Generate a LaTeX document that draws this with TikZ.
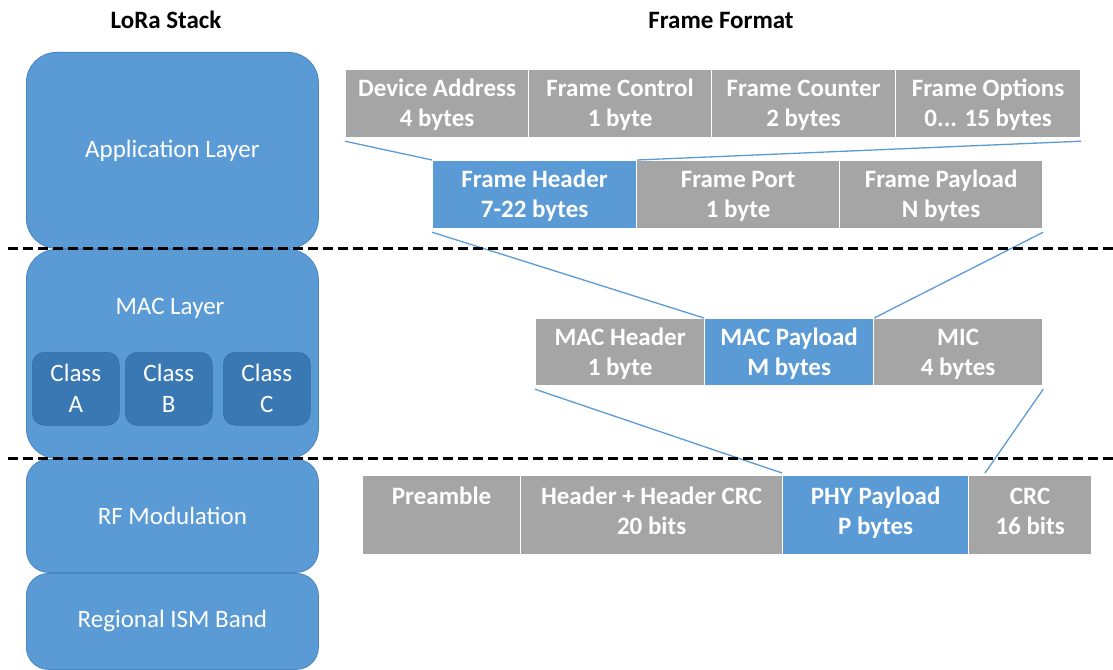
\documentclass[tikz,border=0pt]{standalone}
\usepackage{fontspec}
\setmainfont{Carlito}
\definecolor{cblue}{HTML}{5B9BD5}
\definecolor{cblueedge}{HTML}{4A86BF}
\definecolor{cclass}{HTML}{3A78B4}
\definecolor{cgrey}{HTML}{A5A5A5}
\begin{document}
\begin{tikzpicture}[x=1pt,y=-1pt,
  cell/.style={anchor=north west, inner sep=0pt, align=center, text=white,
    font=\bfseries\fontsize{25}{30}\selectfont, draw=white, line width=1.2pt},
  greycell/.style={cell, fill=cgrey},
  bluecell/.style={cell, fill=cblue},
  stackbox/.style={anchor=north west, inner sep=0pt, fill=cblue, draw=cblueedge,
    line width=0.8pt, minimum width=292pt, text=white,
    font=\fontsize{25}{30}\selectfont},
  classbox/.style={anchor=north west, inner sep=0pt, fill=cclass, draw=cclass!90!black,
    line width=0.5pt, rounded corners=12pt, minimum width=87pt, minimum height=73pt,
    text=white, align=center, font=\fontsize{25}{31}\selectfont},
  title/.style={font=\bfseries\fontsize{25}{30}\selectfont, text=black},
  conn/.style={draw=cblue, line width=1.3pt},
  sep/.style={draw=black, line width=3pt, dash pattern=on 10pt off 5pt}
]
\useasboundingbox (0,0) rectangle (1113,669);

% titles
\node[title] (t1) at (166,20) {LoRa Stack};
\node[title] (t2) at (721,20) {Frame Format};

% stack
\node[stackbox, rounded corners=30pt, minimum height=196pt] (app) at (26,52) {Application Layer};
\node[stackbox, rounded corners=30pt, minimum height=209pt] (mac) at (26,249) {};
\node[text=white, font=\fontsize{25}{30}\selectfont] (maclbl) at (170,308) {MAC Layer};
\node[classbox] (ca) at (32,352) {Class\\A};
\node[classbox] (cb) at (125,352) {Class\\B};
\node[classbox] (cc) at (223,352) {Class\\C};
\node[stackbox, rounded corners=22pt, minimum height=113pt] (rf) at (26,459) {RF Modulation};
\node[stackbox, rounded corners=22pt, minimum height=96pt] (ism) at (26,573) {Regional ISM Band};

% row 1
\node[greycell, minimum width=183pt, minimum height=68pt] (da) at (345,69) {\phantom{X}\\[-26pt]Device Address\\4 bytes};
\node[greycell, minimum width=183pt, minimum height=68pt] (fc) at (528,69) {\phantom{X}\\[-26pt]Frame Control\\1 byte};
\node[greycell, minimum width=184pt, minimum height=68pt] (fcn) at (711,69) {\phantom{X}\\[-26pt]Frame Counter\\2 bytes};
\node[greycell, minimum width=185pt, minimum height=68pt] (fo) at (895,69) {\phantom{X}\\[-26pt]Frame Options\\0... 15 bytes};

% row 2
\node[bluecell, minimum width=204pt, minimum height=68pt] (fh) at (432,160) {\phantom{X}\\[-26pt]Frame Header\\7-22 bytes};
\node[greycell, minimum width=203pt, minimum height=68pt] (fport) at (636,160) {\phantom{X}\\[-26pt]Frame Port\\1 byte};
\node[greycell, minimum width=203pt, minimum height=68pt] (fpay) at (839,160) {\phantom{X}\\[-26pt]Frame Payload\\N bytes};

% row 3
\node[greycell, minimum width=169pt, minimum height=67pt] (mh) at (535,318) {\phantom{X}\\[-26pt]MAC Header\\1 byte};
\node[bluecell, minimum width=169pt, minimum height=67pt] (mp) at (704,318) {\phantom{X}\\[-26pt]MAC Payload\\M bytes};
\node[greycell, minimum width=169pt, minimum height=67pt] (mic) at (873,318) {\phantom{X}\\[-26pt]MIC\\4 bytes};

% row 4
\node[greycell, minimum width=158pt, minimum height=79pt] (pre) at (362,475) {Preamble\\\phantom{X}\\[-22pt]\phantom{X}};
\node[greycell, minimum width=262pt, minimum height=79pt] (hdr) at (520,475) {Header + Header CRC\\20 bits\\[-22pt]\phantom{X}};
\node[bluecell, minimum width=186pt, minimum height=79pt] (phy) at (782,475) {PHY Payload\\P bytes\\[-22pt]\phantom{X}};
\node[greycell, minimum width=123pt, minimum height=79pt] (crc) at (968,475) {CRC\\16 bits\\[-22pt]\phantom{X}};

% connectors
\draw[conn] ([yshift=-3pt]da.south west) -- (fh.north west);
\draw[conn] ([yshift=-3pt]fo.south east) -- (fh.north east);
\draw[conn] ([yshift=-3pt]fh.south west) -- (mp.north west);
\draw[conn] ([yshift=-3pt]fpay.south east) -- (mp.north east);
\draw[conn] ([yshift=-3pt]mh.south west) -- ([yshift=2pt]phy.north west);
\coordinate (crcin) at ([xshift=17pt,yshift=2pt]crc.north west);
\draw[conn] ([yshift=-3pt]mic.south east) -- (crcin);

% separators
\coordinate (s1l) at (8,248);
\coordinate (s1r) at (1113,248);
\coordinate (s2l) at (8,458);
\coordinate (s2r) at (1113,458);
\draw[sep] (s1l) -- (s1r);
\draw[sep] (s2l) -- (s2r);
\end{tikzpicture}
\end{document}
